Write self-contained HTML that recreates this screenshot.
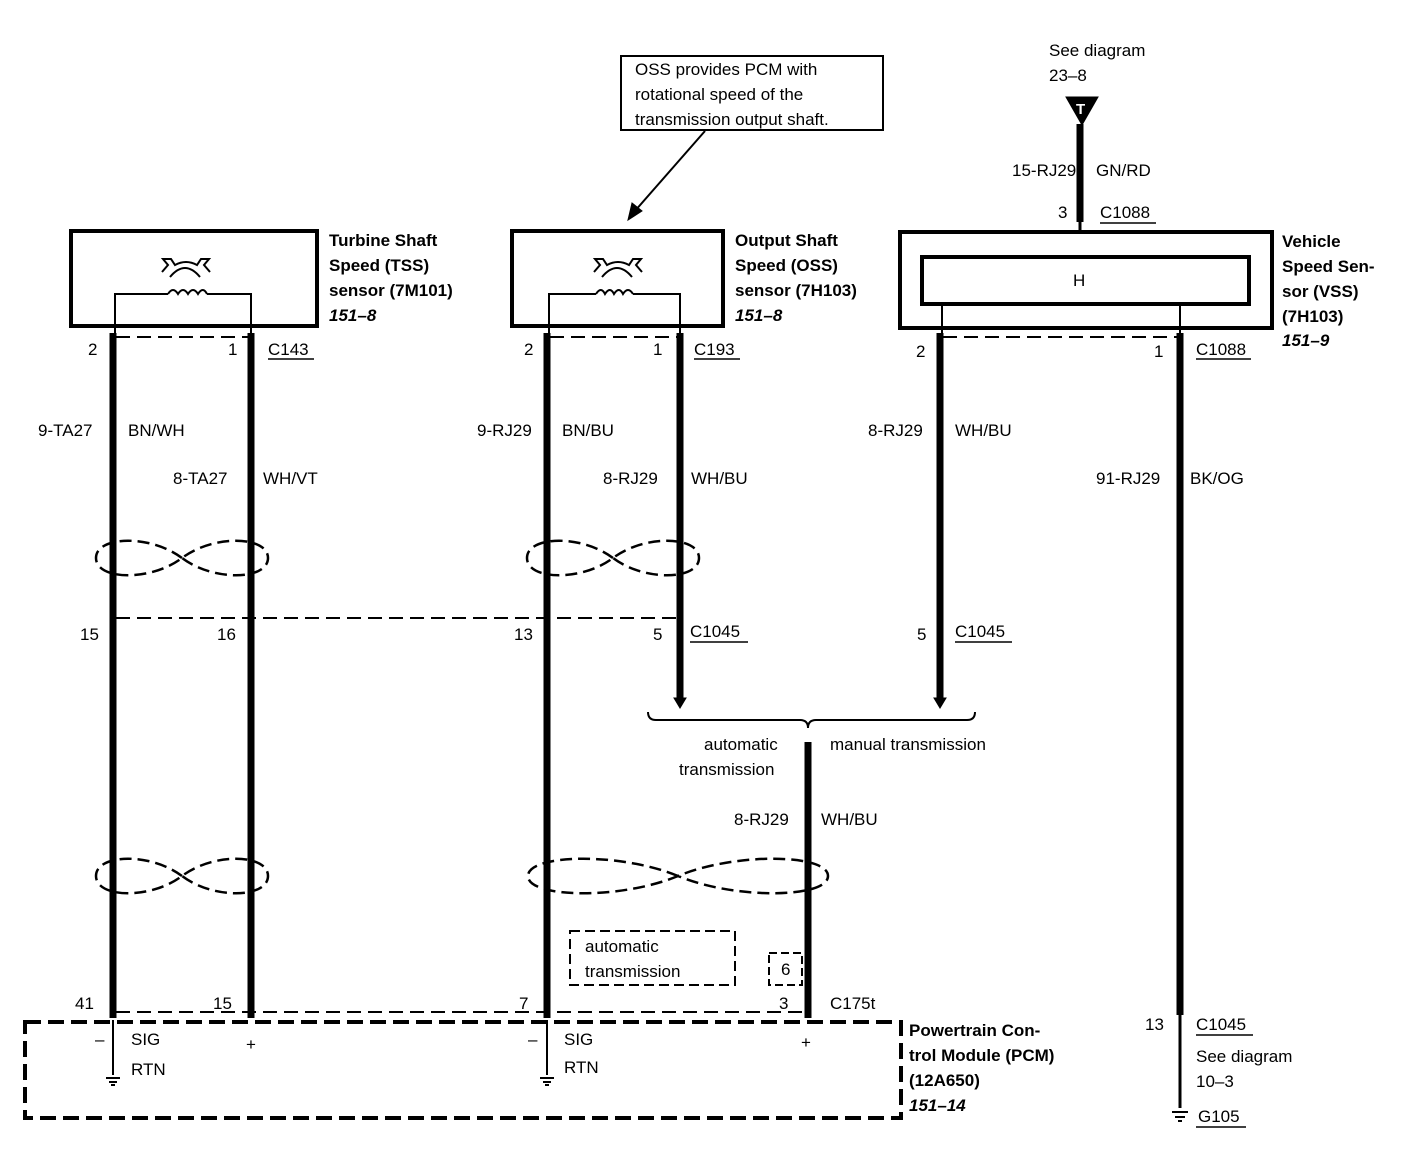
<!DOCTYPE html>
<html><head><style>
body{margin:0;background:#fff}
svg{display:block}
text{font-family:"Liberation Sans",Arial,sans-serif;font-size:17px;fill:#000}
.b{font-weight:bold}
.i{font-weight:bold;font-style:italic}
</style></head><body>
<svg width="1408" height="1152" viewBox="0 0 1408 1152" xmlns="http://www.w3.org/2000/svg">
<g stroke="#000" fill="none">
<rect x="621" y="56" width="262" height="74" stroke-width="2"/>
<line x1="705" y1="131" x2="634" y2="212" stroke-width="2"/>
<polygon points="628,220 632,203 642,211" fill="#000"/>
<rect x="71" y="231" width="246" height="95" stroke-width="4"/>
<rect x="512" y="231" width="211" height="95" stroke-width="4"/>
<rect x="900" y="232" width="372" height="96" stroke-width="4"/>
<rect x="922" y="257" width="327" height="47" stroke-width="4"/>
<path d="M115,335 V294 H168 M207,294 H251 V335" stroke-width="2"/>
<path d="M168,294 q5,-8 10,0 q5,-8 10,0 q5,-8 10,0 q5,-8 9,0" stroke-width="2"/>
<path d="M549,335 V294 H596 M633,294 H680 V335" stroke-width="2"/>
<path d="M596,294 q5,-8 9,0 q5,-8 9,0 q5,-8 9,0 q5,-8 10,0" stroke-width="2"/>
<path d="M942,304 V335 M1180,304 V335" stroke-width="2"/>
<path d="M162,272 l6,-7 l-5,-6 h8 l4,6 q11,-6 22,0 l4,-6 h8 l-5,6 l6,7 M170,277 q15,-18 30,0" stroke-width="2"/>
<path d="M594,272 l6,-7 l-5,-6 h8 l4,6 q11,-6 22,0 l4,-6 h8 l-5,6 l6,7 M602,277 q15,-18 30,0" stroke-width="2"/>
<g stroke-width="7">
<line x1="113" y1="333" x2="113" y2="1018"/>
<line x1="251" y1="333" x2="251" y2="1018"/>
<line x1="547" y1="333" x2="547" y2="1018"/>
<line x1="680" y1="333" x2="680" y2="700"/>
<line x1="940" y1="333" x2="940" y2="700"/>
<line x1="1180" y1="333" x2="1180" y2="1015"/>
<line x1="808" y1="742" x2="808" y2="1018"/>
<line x1="1080" y1="124" x2="1080" y2="222"/>
</g>
<line x1="1080" y1="222" x2="1080" y2="232" stroke-width="3"/>
<polygon points="1066,97 1098,97 1082,125" fill="#000"/>
<polygon points="674,698 686,698 680,708" fill="#000"/>
<polygon points="934,698 946,698 940,708" fill="#000"/>
<line x1="113" y1="1020" x2="113" y2="1075" stroke-width="2"/>
<line x1="547" y1="1020" x2="547" y2="1075" stroke-width="2"/>
<line x1="1180" y1="1015" x2="1180" y2="1108" stroke-width="3"/>
<path d="M106,1078 h14 M109,1082 h8 M111,1085 h4 M540,1078 h14 M543,1082 h8 M545,1085 h4 M1172,1112 h16 M1175,1117 h10 M1178,1121 h4" stroke-width="2"/>
<g stroke-width="2" stroke-dasharray="14,7">
<line x1="116" y1="337" x2="248" y2="337"/>
<line x1="550" y1="337" x2="677" y2="337"/>
<line x1="943" y1="337" x2="1177" y2="337"/>
<line x1="116" y1="618" x2="677" y2="618"/>
<line x1="116" y1="1012" x2="805" y2="1012"/>
</g>
<g stroke-width="2.5" stroke-dasharray="12,6">
<path d="M182,558 C150,534 96,536 96,558 C96,580 150,582 182,558 C214,534 268,536 268,558 C268,580 214,582 182,558"/>
<path d="M613,558 C581,534 527,536 527,558 C527,580 581,582 613,558 C645,534 699,536 699,558 C699,580 645,582 613,558"/>
<path d="M182,876 C150,852 96,854 96,876 C96,898 150,900 182,876 C214,852 268,854 268,876 C268,898 214,900 182,876"/>
<path d="M678,876 C620,852 528,854 528,876 C528,898 620,900 678,876 C736,852 828,854 828,876 C828,898 736,900 678,876"/>
</g>
<rect x="25" y="1022" width="876" height="96" stroke-width="4" stroke-dasharray="16,7"/>
<rect x="570" y="931" width="165" height="54" stroke-width="2" stroke-dasharray="10,5"/>
<rect x="769" y="953" width="33" height="32" stroke-width="2" stroke-dasharray="8,4"/>
<path d="M648,712 q0,8 8,8 H800 q8,0 8,8 q0,-8 8,-8 H967 q8,0 8,-8" stroke-width="2"/>
<g stroke-width="1.5">
<line x1="268" y1="359" x2="314" y2="359"/><line x1="694" y1="359" x2="740" y2="359"/>
<line x1="1196" y1="359" x2="1251" y2="359"/><line x1="1100" y1="223" x2="1156" y2="223"/>
<line x1="690" y1="642" x2="748" y2="642"/><line x1="955" y1="642" x2="1012" y2="642"/>
<line x1="1196" y1="1035" x2="1253" y2="1035"/><line x1="1196" y1="1127" x2="1246" y2="1127"/>
</g>
</g>
<text x="635" y="75">OSS provides PCM with</text>
<text x="635" y="100">rotational speed of the</text>
<text x="635" y="125">transmission output shaft.</text>
<text x="1049" y="56">See diagram</text>
<text x="1049" y="81">23–8</text>
<text x="1076" y="114" style="fill:#fff;font-size:15px;font-weight:bold">T</text>
<text x="1012" y="176">15-RJ29</text><text x="1096" y="176">GN/RD</text>
<text x="1058" y="218">3</text><text x="1100" y="218">C1088</text>
<text x="1073" y="286">H</text>
<text class="b" x="329" y="246">Turbine Shaft</text>
<text class="b" x="329" y="271">Speed (TSS)</text>
<text class="b" x="329" y="296">sensor (7M101)</text>
<text class="i" x="329" y="321">151–8</text>
<text class="b" x="735" y="246">Output Shaft</text>
<text class="b" x="735" y="271">Speed (OSS)</text>
<text class="b" x="735" y="296">sensor (7H103)</text>
<text class="i" x="735" y="321">151–8</text>
<text class="b" x="1282" y="247">Vehicle</text>
<text class="b" x="1282" y="272">Speed Sen-</text>
<text class="b" x="1282" y="297">sor (VSS)</text>
<text class="b" x="1282" y="322">(7H103)</text>
<text class="i" x="1282" y="346">151–9</text>
<text x="88" y="355">2</text><text x="228" y="355">1</text><text x="268" y="355">C143</text>
<text x="524" y="355">2</text><text x="653" y="355">1</text><text x="694" y="355">C193</text>
<text x="916" y="357">2</text><text x="1154" y="357">1</text><text x="1196" y="355">C1088</text>
<text x="38" y="436">9-TA27</text><text x="128" y="436">BN/WH</text>
<text x="173" y="484">8-TA27</text><text x="263" y="484">WH/VT</text>
<text x="477" y="436">9-RJ29</text><text x="562" y="436">BN/BU</text>
<text x="603" y="484">8-RJ29</text><text x="691" y="484">WH/BU</text>
<text x="868" y="436">8-RJ29</text><text x="955" y="436">WH/BU</text>
<text x="1096" y="484">91-RJ29</text><text x="1190" y="484">BK/OG</text>
<text x="80" y="640">15</text><text x="217" y="640">16</text><text x="514" y="640">13</text>
<text x="653" y="640">5</text><text x="690" y="637">C1045</text>
<text x="917" y="640">5</text><text x="955" y="637">C1045</text>
<text x="704" y="750">automatic</text><text x="679" y="775">transmission</text>
<text x="830" y="750">manual transmission</text>
<text x="734" y="825">8-RJ29</text><text x="821" y="825">WH/BU</text>
<text x="585" y="952">automatic</text><text x="585" y="977">transmission</text>
<text x="781" y="975">6</text>
<text x="75" y="1009">41</text><text x="213" y="1009">15</text><text x="519" y="1009">7</text>
<text x="779" y="1009">3</text><text x="830" y="1009">C175t</text>
<text x="95" y="1045">–</text><text x="131" y="1045">SIG</text><text x="131" y="1075">RTN</text>
<text x="246" y="1050">+</text>
<text x="528" y="1045">–</text><text x="564" y="1045">SIG</text><text x="564" y="1073">RTN</text>
<text x="801" y="1048">+</text>
<text class="b" x="909" y="1036">Powertrain Con-</text>
<text class="b" x="909" y="1061">trol Module (PCM)</text>
<text class="b" x="909" y="1086">(12A650)</text>
<text class="i" x="909" y="1111">151–14</text>
<text x="1145" y="1030">13</text><text x="1196" y="1030">C1045</text>
<text x="1196" y="1062">See diagram</text><text x="1196" y="1087">10–3</text>
<text x="1198" y="1122">G105</text>
</svg>
</body></html>
